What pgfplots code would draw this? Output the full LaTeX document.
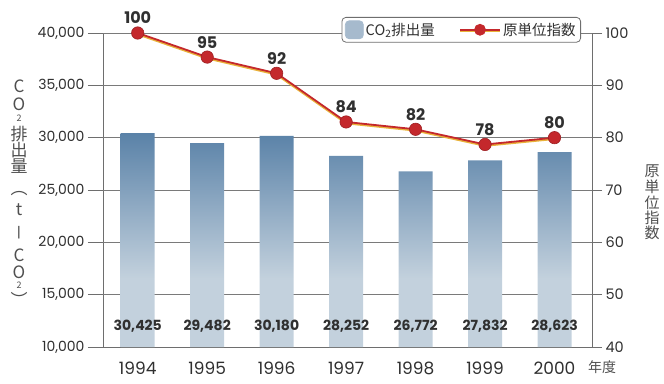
\documentclass[border=0pt]{standalone}
\usepackage{pgfplots}
\pgfplotsset{compat=1.18}
\usepackage{fontspec}
\setmainfont{Poppins}
\newfontfamily\jp{Noto Sans CJK JP}
\definecolor{barTop}{HTML}{5A82A8}
\definecolor{barBot}{HTML}{C3D1DD}
\definecolor{legBlue}{HTML}{A6BACD}
\definecolor{lineRed}{HTML}{C4282C}
\definecolor{lineYel}{HTML}{E9B23A}
\definecolor{gridc}{HTML}{7A7A7A}
\definecolor{axc}{HTML}{6E6E6E}
\definecolor{txt}{HTML}{303030}
\pgfdeclareverticalshading{barshade}{100bp}{color(0bp)=(barBot); color(41bp)=(barBot); color(75bp)=(barTop); color(100bp)=(barTop)}
\pgfplotsset{base/.style={at={(103pt,-347pt)}, anchor=south west,
  scale only axis, width=489pt, height=314pt, xmin=-0.5, xmax=6.54,
  /pgf/number format/assume math mode=true},
  gl/.style={gridc, line width=0.8pt, mark=none, forget plot},
  tk/.style={axc, line width=0.9pt, mark=none, forget plot}}
\begin{document}
\begin{tikzpicture}
\useasboundingbox (0,0) rectangle (664pt,-383pt);
% right scale: ticks and labels
\begin{axis}[base, ymin=40, ymax=100, clip=false,
  axis x line=none, axis y line*=right,
  ytick={40,50,60,70,80,90,100},
  y tick label style={font=\fontsize{14.5}{14.5}\selectfont, text=txt},
  tick align=outside, major tick length=10pt,
  tick style={axc, line width=0.8pt},
  axis line style={axc, line width=0.9pt},
]
\addplot[tk] coordinates {(6.54,40) (6.684,40)};
\addplot[tk] coordinates {(6.54,50) (6.684,50)};
\addplot[tk] coordinates {(6.54,60) (6.684,60)};
\addplot[tk] coordinates {(6.54,70) (6.684,70)};
\addplot[tk] coordinates {(6.54,80) (6.684,80)};
\addplot[tk] coordinates {(6.54,90) (6.684,90)};
\addplot[tk] coordinates {(6.54,100) (6.684,100)};
\end{axis}
% left scale: ticks and labels
\begin{axis}[base, ymin=10000, ymax=40000, clip=false,
  axis x line=none, axis y line*=left,
  ytick={10000,15000,20000,25000,30000,35000,40000},
  scaled y ticks=false,
  y tick label style={font=\fontsize{14}{14}\selectfont, text=txt, /pgf/number format/1000 sep={,}},
  tick align=outside, major tick length=15pt,
  tick style={axc, line width=0.8pt},
  axis line style={axc, line width=0.9pt},
]
\addplot[tk] coordinates {(-0.716,10000) (-0.5,10000)};
\addplot[tk] coordinates {(-0.716,15000) (-0.5,15000)};
\addplot[tk] coordinates {(-0.716,20000) (-0.5,20000)};
\addplot[tk] coordinates {(-0.716,25000) (-0.5,25000)};
\addplot[tk] coordinates {(-0.716,30000) (-0.5,30000)};
\addplot[tk] coordinates {(-0.716,35000) (-0.5,35000)};
\addplot[tk] coordinates {(-0.716,40000) (-0.5,40000)};
\end{axis}
% x labels and bottom line
\begin{axis}[base, ymin=0, ymax=1,
  axis x line*=bottom, axis y line=none,
  axis line style={axc, line width=0.9pt},
  major tick length=0pt, tick style={draw=none},
  xtick={0,1,2,3,4,5,6}, xticklabels={1994,1995,1996,1997,1998,1999,2000},
  x tick label style={font=\fontsize{17}{17}\selectfont, text=txt, yshift=-11pt},
]
\end{axis}
% grid and bars
\begin{axis}[base, ymin=10000, ymax=40000, hide axis]
\addplot[gl] coordinates {(-0.5,15000) (6.54,15000)};
\addplot[gl] coordinates {(-0.5,20000) (6.54,20000)};
\addplot[gl] coordinates {(-0.5,25000) (6.54,25000)};
\addplot[gl] coordinates {(-0.5,30000) (6.54,30000)};
\addplot[gl] coordinates {(-0.5,35000) (6.54,35000)};
\addplot[gl] coordinates {(-0.5,40000) (6.54,40000)};
\addplot[ybar, bar width=34pt, draw=none, shading=barshade] coordinates {
  (0,30425) (1,29482) (2,30180) (3,28252) (4,26772) (5,27832) (6,28623)};
\addplot[draw=none, mark=none, nodes near coords, point meta=explicit symbolic,
  every node near coord/.style={anchor=center, font=\bfseries\fontsize{14}{14}\selectfont, text=txt}]
  table[meta=lab] {
x y lab
0 11950 30,425
1 11950 29,482
2 11950 30,180
3 11950 28,252
4 11950 26,772
5 11950 27,832
6 11950 28,623
};
\end{axis}
% index line and legend
\begin{axis}[base, ymin=40, ymax=100, hide axis, clip=false,
  legend style={at={(0.9775,1.051)}, anchor=north east, draw=axc, line width=0.8pt,
    rounded corners=4pt, legend columns=2, font=\jp\fontsize{14.5}{14.5}\selectfont,
    text=txt, inner sep=3pt, /tikz/every even column/.append style={column sep=22pt}},
  legend cell align=left,
]
\addlegendimage{legend image code/.code={\fill[legBlue] (-2pt,-9pt) rectangle (16pt,9pt);}}
\addlegendentry{CO\textsubscript{2}排出量}
\addlegendimage{legend image code/.code={
  \draw[lineYel, line width=2.2pt] (-8pt,-1pt)--(32pt,-1pt);
  \draw[lineRed, line width=1.6pt] (-8pt,0pt)--(32pt,0pt);
  \fill[lineRed] (12pt,0pt) circle (5.5pt);}}
\addlegendentry{原単位指数}
\addplot[lineYel, line width=2.4pt, yshift=-1.1pt, forget plot] coordinates {
  (0,100) (1,95.4) (2,92.3) (3,83.0) (4,81.6) (5,78.7) (6,80.0)};
\addplot[lineRed, line width=1.8pt, mark=*, mark size=6.2pt,
  mark options={fill=lineRed, draw=lineRed!80!black, line width=0.6pt},
  nodes near coords, point meta=explicit symbolic,
  every node near coord/.style={anchor=center, yshift=15pt, font=\bfseries\fontsize{16}{16}\selectfont, text=txt},
  forget plot]
  table[meta=lab] {
x y lab
0 100 100
1 95.4 95
2 92.3 92
3 83.0 84
4 81.6 82
5 78.7 78
6 80.0 80
};
\end{axis}
\foreach \c/\y/\s in {C/86/17, O/104/17, 2/118/9, 排/134/17, 出/150/17, 量/166/17, ︵/194/17, t/210/17, C/255/17, O/272/17, 2/285/9, ︶/299/17}
  \node[font=\jp\fontsize{\s}{\s}\selectfont, text=txt!85, inner sep=0pt] at (19pt,-\y pt) {\c};
\node[font=\fontsize{14}{14}\selectfont, text=txt!85, inner sep=0pt] at (19pt,-233pt) {|};
\foreach \c/\y in {原/171, 単/187, 位/203, 指/218, 数/233}
  \node[font=\jp\fontsize{15}{15}\selectfont, text=txt!85, inner sep=0pt] at (652pt,-\y pt) {\c};
\node[font=\jp\fontsize{14}{14}\selectfont, text=txt!85, inner sep=0pt] at (602pt,-367pt) {年度};
\end{tikzpicture}
\end{document}
